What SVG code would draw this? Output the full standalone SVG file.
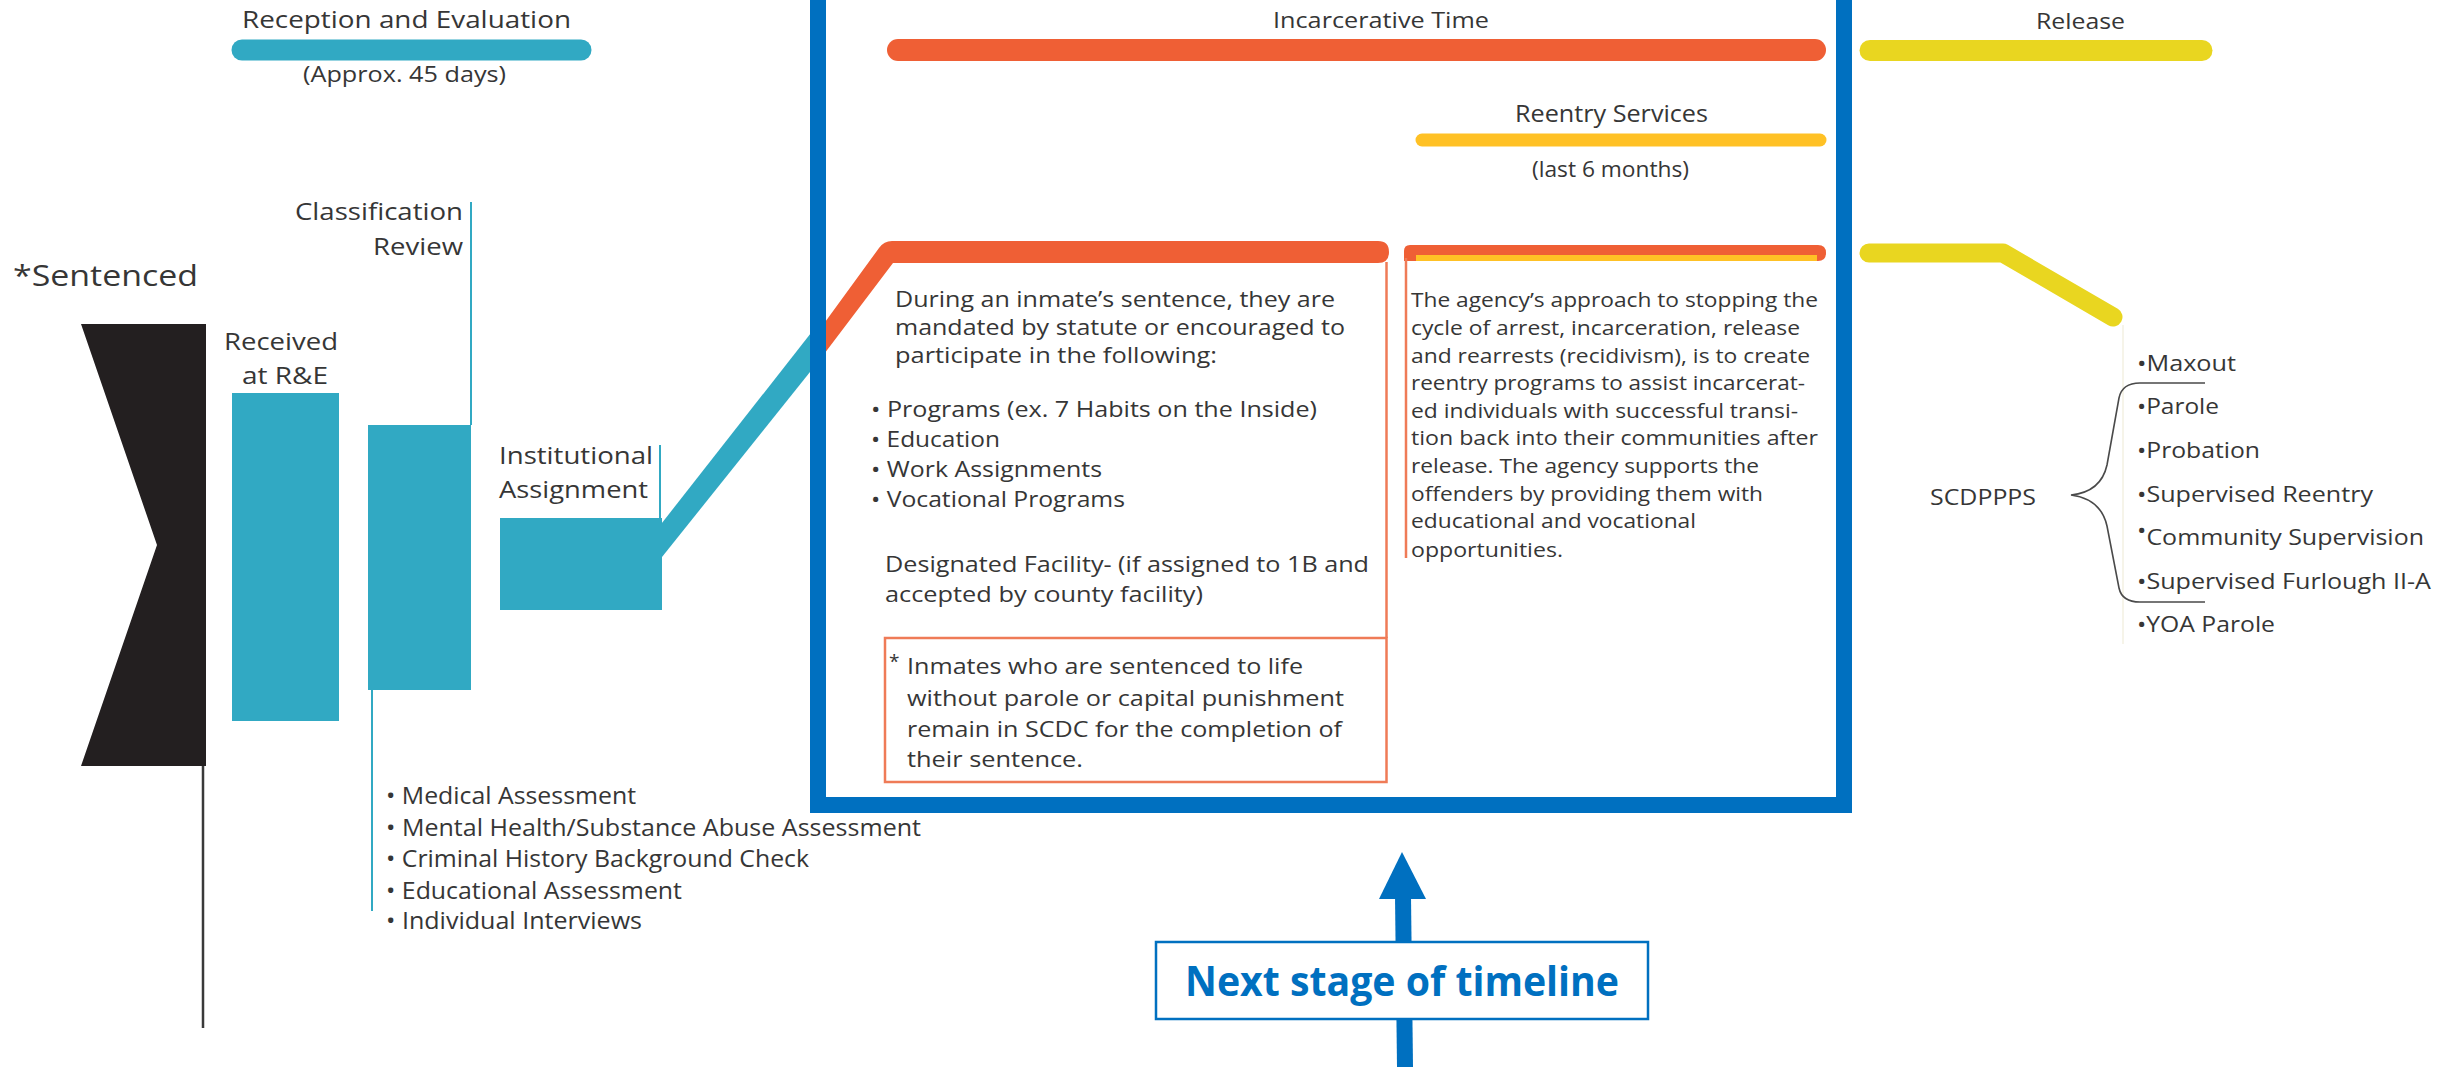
<svg xmlns="http://www.w3.org/2000/svg" width="2437" height="1067" viewBox="0 0 2437 1067">
<style>
.t{font-family:"Open Sans","Liberation Sans",sans-serif;fill:#363636}
.s24{font-size:24px}.s23{font-size:23px}.s22{font-size:22px}.s21{font-size:21px}.s20{font-size:20px}.s19{font-size:19.5px}
.teal{fill:#31A9C3}
.tealLine{stroke:#31A9C3;stroke-width:2;fill:none}
.orange{fill:#EF5F35}
.oLine{stroke:#EF7B57;stroke-width:2.5;fill:none}
.bar{fill:none;stroke-linecap:round}
</style>

<g id="connectors">
  <polygon class="teal" points="658,528 818,324 818,362 658,562"/>
  <path class="orange" d="M812,340 L879,248 Q884,241 892,241 L1378,241 Q1389,241 1389,252 Q1389,263 1378,263 L893,263 L812,370 Z"/>
  <line x1="203" y1="766" x2="203" y2="1028" stroke="#3a3a3a" stroke-width="2.5"/>
  <line x1="2123" y1="325" x2="2123" y2="644" stroke="#F3F1E2" stroke-width="1.5"/>
  <line x1="1405" y1="1067" x2="1403" y2="896" stroke="#0070C0" stroke-width="16"/>
  <polygon points="1402,852 1426,899 1379,899" fill="#0070C0"/>
</g>

<g id="frame">
  <rect x="818" y="-30" width="1026" height="835" fill="none" stroke="#0070C0" stroke-width="16"/>
</g>

<g id="reception">
  <line class="bar" x1="242" y1="50" x2="581" y2="50" stroke="#31A9C3" stroke-width="21"/>
  <text class="t s24" x="242" y="28" textLength="329" lengthAdjust="spacingAndGlyphs">Reception and Evaluation</text>
  <text class="t s21" x="303" y="82" textLength="203" lengthAdjust="spacingAndGlyphs">(Approx. 45 days)</text>
</g>

<g id="sentenced">
  <polygon points="81,324 206,324 206,766 81,766 157,545" fill="#231F20"/>
  <text class="t" x="13" y="286" font-size="30" fill="#231F20" textLength="185" lengthAdjust="spacingAndGlyphs">*Sentenced</text>
</g>

<g id="received">
  <rect class="teal" x="232" y="393" width="107" height="328"/>
  <text class="t s24" x="224" y="350" textLength="114" lengthAdjust="spacingAndGlyphs">Received</text>
  <text class="t s24" x="242" y="384" textLength="86" lengthAdjust="spacingAndGlyphs">at R&amp;E</text>
</g>

<g id="classification">
  <rect class="teal" x="368" y="425" width="103" height="265"/>
  <line class="tealLine" x1="471" y1="202" x2="471" y2="425"/>
  <line class="tealLine" x1="372" y1="690" x2="372" y2="911"/>
  <text class="t s24" x="463" y="220" text-anchor="end" textLength="168" lengthAdjust="spacingAndGlyphs">Classification</text>
  <text class="t s24" x="463" y="255" text-anchor="end" textLength="90" lengthAdjust="spacingAndGlyphs">Review</text>
</g>

<g id="institutional">
  <rect class="teal" x="500" y="518" width="162" height="92"/>
  <line class="tealLine" x1="660" y1="445" x2="660" y2="518"/>
  <text class="t s23" x="499" y="464" textLength="154" lengthAdjust="spacingAndGlyphs">Institutional</text>
  <text class="t s23" x="499" y="498" textLength="149" lengthAdjust="spacingAndGlyphs">Assignment</text>
</g>

<g id="assessments">
  <text class="t s24" x="386" y="804" textLength="250" lengthAdjust="spacingAndGlyphs">• Medical Assessment</text>
  <text class="t s24" x="386" y="836" textLength="535" lengthAdjust="spacingAndGlyphs">• Mental Health/Substance Abuse Assessment</text>
  <text class="t s24" x="386" y="867" textLength="423" lengthAdjust="spacingAndGlyphs">• Criminal History Background Check</text>
  <text class="t s24" x="386" y="899" textLength="296" lengthAdjust="spacingAndGlyphs">• Educational Assessment</text>
  <text class="t s24" x="386" y="929" textLength="256" lengthAdjust="spacingAndGlyphs">• Individual Interviews</text>
</g>

<g id="incarcerative">
  <line class="bar" x1="898" y1="50" x2="1815" y2="50" stroke="#EF5F35" stroke-width="22"/>
  <text class="t s22" x="1273" y="28" textLength="216" lengthAdjust="spacingAndGlyphs">Incarcerative Time</text>
</g>

<g id="reentry">
  <line class="bar" x1="1422" y1="140" x2="1820" y2="140" stroke="#FFC125" stroke-width="13"/>
  <text class="t s23" x="1515" y="122" textLength="193" lengthAdjust="spacingAndGlyphs">Reentry Services</text>
  <text class="t s21" x="1532" y="177" textLength="157" lengthAdjust="spacingAndGlyphs">(last 6 months)</text>
</g>

<g id="left-panel">
  <line class="oLine" x1="1386.5" y1="262" x2="1386.5" y2="638"/>
  <rect class="oLine" x="885" y="638" width="501.5" height="144"/>
  <text class="t s21" x="895" y="307" textLength="440" lengthAdjust="spacingAndGlyphs">During an inmate’s sentence, they are</text>
  <text class="t s21" x="895" y="335" textLength="450" lengthAdjust="spacingAndGlyphs">mandated by statute or encouraged to</text>
  <text class="t s21" x="895" y="363" textLength="322" lengthAdjust="spacingAndGlyphs">participate in the following:</text>
  <text class="t s21" x="871" y="417" textLength="446" lengthAdjust="spacingAndGlyphs">• Programs (ex. 7 Habits on the Inside)</text>
  <text class="t s21" x="871" y="447" textLength="129" lengthAdjust="spacingAndGlyphs">• Education</text>
  <text class="t s21" x="871" y="477" textLength="231" lengthAdjust="spacingAndGlyphs">• Work Assignments</text>
  <text class="t s21" x="871" y="507" textLength="254" lengthAdjust="spacingAndGlyphs">• Vocational Programs</text>
  <text class="t s21" x="885" y="572" textLength="484" lengthAdjust="spacingAndGlyphs">Designated Facility- (if assigned to 1B and</text>
  <text class="t s21" x="885" y="602" textLength="318" lengthAdjust="spacingAndGlyphs">accepted by county facility)</text>
  <text class="t" x="889" y="668" font-size="19">*</text>
  <text class="t s21" x="907" y="674" textLength="396" lengthAdjust="spacingAndGlyphs">Inmates who are sentenced to life</text>
  <text class="t s21" x="907" y="706" textLength="437" lengthAdjust="spacingAndGlyphs">without parole or capital punishment</text>
  <text class="t s21" x="907" y="737" textLength="435" lengthAdjust="spacingAndGlyphs">remain in SCDC for the completion of</text>
  <text class="t s21" x="907" y="767" textLength="176" lengthAdjust="spacingAndGlyphs">their sentence.</text>
</g>

<g id="right-panel">
  <path class="orange" d="M1404,261 L1404,251 Q1404,245 1410,245 L1818,245 Q1826,245 1826,253 Q1826,261 1818,261 Z"/>
  <rect x="1416" y="255" width="401" height="6" fill="#FFC125"/>
  <line class="oLine" x1="1406" y1="258" x2="1406" y2="558"/>
  <text class="t s19" x="1411" y="307" textLength="407" lengthAdjust="spacingAndGlyphs">The agency’s approach to stopping the</text>
  <text class="t s19" x="1411" y="335" textLength="389" lengthAdjust="spacingAndGlyphs">cycle of arrest, incarceration, release</text>
  <text class="t s19" x="1411" y="363" textLength="399" lengthAdjust="spacingAndGlyphs">and rearrests (recidivism), is to create</text>
  <text class="t s19" x="1411" y="390" textLength="394" lengthAdjust="spacingAndGlyphs">reentry programs to assist incarcerat-</text>
  <text class="t s19" x="1411" y="418" textLength="387" lengthAdjust="spacingAndGlyphs">ed individuals with successful transi-</text>
  <text class="t s19" x="1411" y="445" textLength="407" lengthAdjust="spacingAndGlyphs">tion back into their communities after</text>
  <text class="t s19" x="1411" y="473" textLength="348" lengthAdjust="spacingAndGlyphs">release. The agency supports the</text>
  <text class="t s19" x="1411" y="501" textLength="352" lengthAdjust="spacingAndGlyphs">offenders by providing them with</text>
  <text class="t s19" x="1411" y="528" textLength="285" lengthAdjust="spacingAndGlyphs">educational and vocational</text>
  <text class="t s19" x="1411" y="557" textLength="152" lengthAdjust="spacingAndGlyphs">opportunities.</text>
</g>

<g id="release">
  <line class="bar" x1="1870" y1="50.5" x2="2202" y2="50.5" stroke="#E9D620" stroke-width="21"/>
  <polyline points="1869,253 2003,253 2113,317" fill="none" stroke="#E9D620" stroke-width="19" stroke-linecap="round" stroke-linejoin="round"/>
  <text class="t s22" x="2036" y="29" textLength="89" lengthAdjust="spacingAndGlyphs">Release</text>
</g>

<g id="scdppps">
  <text class="t s22" x="1930" y="505" textLength="106" lengthAdjust="spacingAndGlyphs">SCDPPPS</text>
  <path d="M2205,383 L2140,383 Q2122,383 2119,398 L2107,465 Q2101,492 2071,495 Q2101,499 2107,526 L2119,588 Q2122,602 2140,602 L2205,602" fill="none" stroke="#4a4a4a" stroke-width="1.6"/>
  <text class="t s22" x="2137" y="371" textLength="99" lengthAdjust="spacingAndGlyphs">•Maxout</text>
  <text class="t s22" x="2137" y="414" textLength="82" lengthAdjust="spacingAndGlyphs">•Parole</text>
  <text class="t s22" x="2137" y="458" textLength="123" lengthAdjust="spacingAndGlyphs">•Probation</text>
  <text class="t s22" x="2137" y="502" textLength="236" lengthAdjust="spacingAndGlyphs">•Supervised Reentry</text>
  <text class="t s22" x="2137" y="545" textLength="287" lengthAdjust="spacingAndGlyphs"><tspan dy="-7">•</tspan><tspan dy="7">Community Supervision</tspan></text>
  <text class="t s22" x="2137" y="589" textLength="294" lengthAdjust="spacingAndGlyphs">•Supervised Furlough II-A</text>
  <text class="t s22" x="2137" y="632" textLength="138" lengthAdjust="spacingAndGlyphs">•YOA Parole</text>
</g>

<g id="next-stage">
  <rect x="1156" y="942" width="492" height="77" fill="#fff" stroke="#0070C0" stroke-width="2.5"/>
  <text x="1402" y="996" text-anchor="middle" font-family="'Open Sans','Liberation Sans',sans-serif" font-weight="bold" font-size="41" fill="#0070C0" textLength="434" lengthAdjust="spacingAndGlyphs">Next stage of timeline</text>
</g>
</svg>
